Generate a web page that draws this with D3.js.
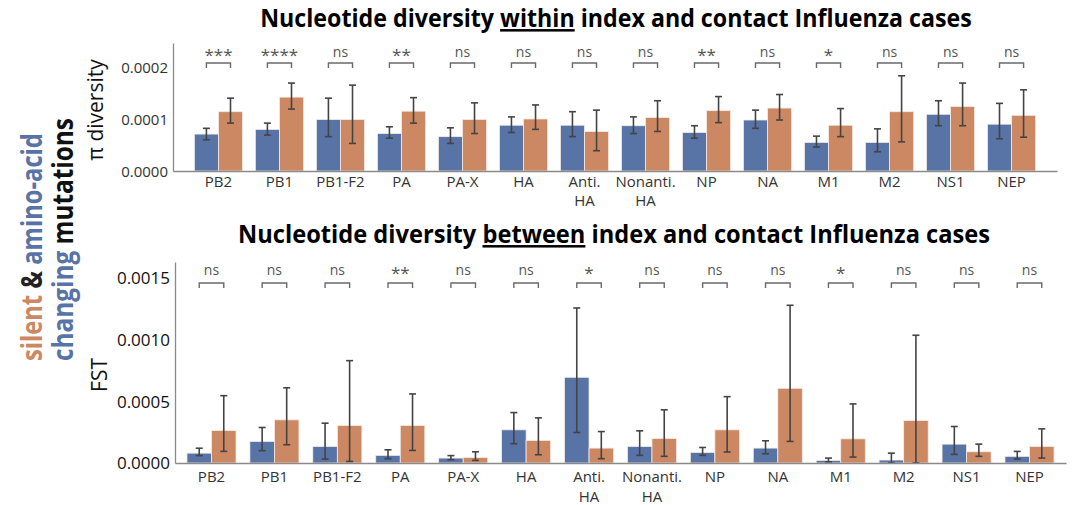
<!DOCTYPE html>
<html>
<head>
<meta charset="utf-8">
<script src="https://cdn.jsdelivr.net/npm/d3@7"></script>
<style>
  body { margin: 0; background: #fff; }
  text { font-family: "Open Sans", sans-serif; }
</style>
</head>
<body>
<div id="chart"></div>
<script>
// genes on the x axis, "\n" splits a label over two lines
var categories = ["PB2", "PB1", "PB1-F2", "PA", "PA-X", "HA", "Anti.\nHA", "Nonanti.\nHA", "NP", "NA", "M1", "M2", "NS1", "NEP"];
var series = ["changing", "silent"];

// within hosts: pi diversity
var withinChanging   = [7.1e-5, 8.0e-5, 9.9e-5, 7.2e-5, 6.6e-5, 8.8e-5, 8.8e-5, 8.7e-5, 7.4e-5, 9.8e-5, 5.5e-5, 5.5e-5, 10.9e-5, 9.0e-5];
var withinChangingLo = [6.0e-5, 6.9e-5, 6.6e-5, 6.3e-5, 5.3e-5, 7.4e-5, 6.6e-5, 7.2e-5, 6.3e-5, 8.2e-5, 4.6e-5, 3.7e-5, 8.7e-5, 6.2e-5];
var withinChangingHi = [8.2e-5, 9.2e-5, 14.0e-5, 8.5e-5, 8.3e-5, 10.4e-5, 11.4e-5, 10.4e-5, 8.7e-5, 11.7e-5, 6.7e-5, 8.1e-5, 13.5e-5, 13.0e-5];
var withinSilent     = [11.4e-5, 14.2e-5, 9.9e-5, 11.5e-5, 9.9e-5, 10.0e-5, 7.6e-5, 10.3e-5, 11.6e-5, 12.1e-5, 8.8e-5, 11.4e-5, 12.4e-5, 10.7e-5];
var withinSilentLo   = [9.2e-5, 11.9e-5, 5.3e-5, 9.2e-5, 7.2e-5, 8.0e-5, 3.9e-5, 7.6e-5, 9.3e-5, 9.8e-5, 6.6e-5, 5.6e-5, 8.7e-5, 6.5e-5];
var withinSilentHi   = [14.0e-5, 16.9e-5, 16.5e-5, 14.1e-5, 13.1e-5, 12.7e-5, 11.7e-5, 13.5e-5, 14.3e-5, 14.7e-5, 12.0e-5, 18.3e-5, 16.9e-5, 15.6e-5];
var withinSig = ["***", "****", "ns", "**", "ns", "ns", "ns", "ns", "**", "ns", "*", "ns", "ns", "ns"];
var withinTicks = [0, 0.0001, 0.0002];

// between hosts: FST
var betweenChanging   = [0.000080, 0.000175, 0.000134, 0.000062, 0.000040, 0.000269, 0.000695, 0.000134, 0.000086, 0.000121, 0.000021, 0.000024, 0.000153, 0.000054];
var betweenChangingLo = [0.000060, 0.000100, 0.000032, 0.000035, 0.000027, 0.000156, 0.000247, 0.000062, 0.000062, 0.000075, 0.000010, 0.000000, 0.000070, 0.000032];
var betweenChangingHi = [0.000120, 0.000288, 0.000323, 0.000107, 0.000060, 0.000409, 0.001257, 0.000261, 0.000126, 0.000180, 0.000040, 0.000080, 0.000296, 0.000094];
var betweenSilent     = [0.000263, 0.000350, 0.000304, 0.000304, 0.000045, 0.000183, 0.000121, 0.000199, 0.000269, 0.000606, 0.000196, 0.000344, 0.000091, 0.000134];
var betweenSilentLo   = [0.000094, 0.000148, 0.000013, 0.000102, 0.000021, 0.000067, 0.000035, 0.000054, 0.000089, 0.000175, 0.000048, 0.000000, 0.000054, 0.000040];
var betweenSilentHi   = [0.000546, 0.000610, 0.000830, 0.000560, 0.000091, 0.000366, 0.000255, 0.000431, 0.000538, 0.001279, 0.000479, 0.001036, 0.000153, 0.000277];
var betweenSig = ["ns", "ns", "ns", "**", "ns", "ns", "*", "ns", "ns", "ns", "*", "ns", "ns", "ns"];
var betweenTicks = [0, 0.0005, 0.0010, 0.0015];

var BLUE = "#5873a5";
var ORANGE = "#cc8862";
var color = d3.scaleOrdinal().domain(series).range([BLUE, ORANGE]);

var svg = d3.select("#chart").append("svg")
  .attr("width", 1087)
  .attr("height", 505)

// squeeze a text horizontally to a target width (the original narrow font is not installed)
function fitText(sel, width, base) {
  var w = sel.node().getComputedTextLength();
  sel.attr("transform", base + " scale(" + (width / w) + ",1)");
}

function drawPanel(p) {
  var rows = categories.map(function (c, i) {
    return {cat: c, idx: i, sig: p.sig[i], vals: [
      {key: "changing", v: p.changing[i], lo: p.changingLo[i], hi: p.changingHi[i]},
      {key: "silent", v: p.silent[i], lo: p.silentLo[i], hi: p.silentHi[i]}
    ]};
  });

  var x0 = d3.scaleBand().domain(categories).range(p.xRange)
    .paddingInner(p.padIn).paddingOuter(p.padOut);
  var x1 = d3.scaleBand().domain(series).range([0, x0.bandwidth()]);
  var y = d3.scaleLinear().domain(p.yDomain).range([p.bottom, p.top]);

  var g = svg.append("g");

  // y axis
  var yAxis = g.append("g")
    .attr("transform", "translate(" + p.xRange[0] + ",0)")
    .call(d3.axisLeft(y).tickValues(p.ticks).tickFormat(d3.format(".4f")).tickSize(0).tickPadding(5).tickSizeOuter(0));
  yAxis.select(".domain").attr("stroke", "#8a8a8a").attr("stroke-width", 1.3);
  yAxis.selectAll("text")
    .style("font-size", p.tickFont + "px")
    .attr("fill", p.tickColor)
    .attr("dy", "0.35em");
  if (p.clipLeft) {
    // the source figure is cropped just left of the top tick labels
    yAxis.append("clipPath").attr("id", "clip-" + p.name)
      .append("rect").attr("x", p.clipLeft - p.xRange[0]).attr("y", 0).attr("width", 200).attr("height", 505);
    yAxis.attr("clip-path", "url(#clip-" + p.name + ")");
  }

  // bars
  var groups = g.append("g").attr("class", "bars")
    .selectAll("g").data(rows).enter()
    .append("g")
    .attr("transform", function (d) { return "translate(" + x0(d.cat) + ",0)"; });

  groups.selectAll("rect").data(function (d) { return d.vals; }).enter()
    .append("rect")
    .attr("x", function (d) { return x1(d.key); })
    .attr("width", x1.bandwidth())
    .attr("y", function (d) { return y(d.v); })
    .attr("height", function (d) { return y(0) - y(d.v); })
    .style("fill", function (d) { return color(d.key); })
    .style("stroke", "#f4ece6")
    .style("stroke-width", 0.8);

  // error bars
  var err = groups.selectAll(".err").data(function (d) { return d.vals; }).enter()
    .append("g").attr("class", "err")
    .attr("transform", function (d) { return "translate(" + (x1(d.key) + x1.bandwidth() / 2) + ",0)"; })
    .style("stroke", "#444")
    .style("stroke-width", 1.6);
  err.append("line")
    .attr("y1", function (d) { return y(d.lo); })
    .attr("y2", function (d) { return y(d.hi); });
  err.append("line")
    .attr("x1", -3.5).attr("x2", 3.5)
    .attr("y1", function (d) { return y(d.lo); })
    .attr("y2", function (d) { return y(d.lo); });
  err.append("line")
    .attr("x1", -3.5).attr("x2", 3.5)
    .attr("y1", function (d) { return y(d.hi); })
    .attr("y2", function (d) { return y(d.hi); });

  // significance brackets
  var bx0 = x1("changing") + x1.bandwidth() / 2;
  var bx1 = x1("silent") + x1.bandwidth() / 2;
  groups.append("path")
    .attr("d", "M" + bx0 + "," + (p.bracketY + 5) + "V" + p.bracketY + "H" + bx1 + "V" + (p.bracketY + 5))
    .style("fill", "none")
    .style("stroke", "#6a6a6a")
    .style("stroke-width", 1.4);
  groups.append("text")
    .text(function (d) { return d.sig; })
    .attr("x", x0.bandwidth() / 2)
    .attr("y", function (d) { return d.sig == "ns" ? p.sigY : p.sigY + 4; })
    .style("text-anchor", "middle")
    .style("font-size", function (d) { return d.sig == "ns" ? "14px" : "17px"; })
    .style("fill", "#555");

  // x axis
  var xAxis = g.append("g")
    .attr("transform", "translate(0," + p.bottom + ")")
    .call(d3.axisBottom(x0).tickSize(0).tickSizeOuter(0).tickPadding(0));
  xAxis.select(".domain").attr("stroke", "#8a8a8a").attr("stroke-width", 1.3);
  xAxis.selectAll(".tick").select("line").remove();
  xAxis.selectAll(".tick text").each(function (d) {
    var t = d3.select(this).text("").attr("y", 0).attr("dy", null)
      .style("font-size", "15px").attr("fill", p.catColor);
    d.split("\n").forEach(function (part, k) {
      t.append("tspan").attr("x", 0).attr("y", p.catY + k * p.catLine).text(part);
    });
  });

  // y label
  g.append("text")
    .text(p.yLabel)
    .attr("transform", "translate(" + p.yLabelX + "," + p.yLabelY + ") rotate(-90)")
    .style("text-anchor", "middle")
    .style("font-size", "21px")
    .style("fill", "#111");

  // title
  var title = g.append("text")
    .style("text-anchor", "middle")
    .style("font-weight", "bold")
    .style("font-size", "25px")
    .style("fill", "#000");
  title.append("tspan").text("Nucleotide diversity ");
  title.append("tspan").text(p.titleWord).style("text-decoration", "underline");
  title.append("tspan").text(" index and contact Influenza cases");
  fitText(title, p.titleW, "translate(" + p.titleX + "," + p.titleY + ")");
}

drawPanel({
  name: "within",
  changing: withinChanging, changingLo: withinChangingLo, changingHi: withinChangingHi,
  silent: withinSilent, silentLo: withinSilentLo, silentHi: withinSilentHi,
  sig: withinSig, ticks: withinTicks,
  xRange: [173, 1057], padIn: 0.21, padOut: 0.35,
  yDomain: [0, 0.000246], top: 43, bottom: 171,
  tickFont: 15, tickColor: "#333", clipLeft: 121,
  bracketY: 63, sigY: 57,
  catY: 16, catLine: 19, catColor: "#333",
  yLabel: "\u03c0 diversity", yLabelX: 103, yLabelY: 110,
  titleX: 616, titleY: 27, titleW: 712, titleWord: "within"
});

drawPanel({
  name: "between",
  changing: betweenChanging, changingLo: betweenChangingLo, changingHi: betweenChangingHi,
  silent: betweenSilent, silentLo: betweenSilentLo, silentHi: betweenSilentHi,
  sig: betweenSig, ticks: betweenTicks,
  xRange: [175, 1066], padIn: 0.22, padOut: 0.19,
  yDomain: [0, 0.00163], top: 262, bottom: 463,
  tickFont: 17, tickColor: "#111", clipLeft: null,
  bracketY: 283, sigY: 275,
  catY: 19, catLine: 20, catColor: "#333",
  yLabel: "FST", yLabelX: 107, yLabelY: 375,
  titleX: 614, titleY: 243, titleW: 752, titleWord: "between"
});

// big rotated legend-like label on the left
var lab = svg.append("g")
  .style("font-weight", "bold")
  .style("font-size", "28px");
var l1 = lab.append("text");
l1.append("tspan").text("silent").style("fill", ORANGE);
l1.append("tspan").text(" & ").style("fill", "#222");
l1.append("tspan").text("amino-acid").style("fill", BLUE);
fitText(l1, 228, "translate(42,361) rotate(-90)");
var l2 = lab.append("text");
l2.append("tspan").text("changing").style("fill", BLUE);
l2.append("tspan").text(" mutations").style("fill", "#111");
fitText(l2, 243, "translate(73,361) rotate(-90)");
</script>
</body>
</html>
